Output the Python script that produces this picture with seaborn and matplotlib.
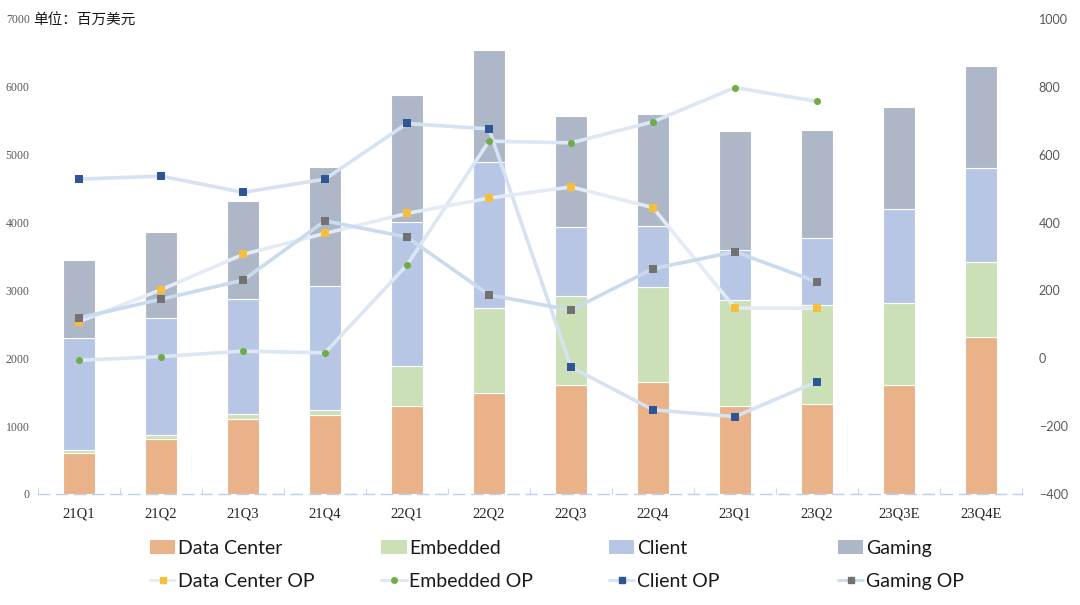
import numpy as np
import pandas as pd
import matplotlib
matplotlib.use("Agg")
import matplotlib.pyplot as plt
import seaborn as sns
from matplotlib.lines import Line2D
from matplotlib.patches import Patch

sns.set_style("white")
plt.rcParams['font.family'] = ['Lato', 'Noto Sans CJK SC', 'DejaVu Sans']

quarters = ['21Q1', '21Q2', '21Q3', '21Q4', '22Q1', '22Q2', '22Q3', '22Q4',
            '23Q1', '23Q2', '23Q3E', '23Q4E']

# revenue by segment (millions USD, left axis)
data_center = [610, 813, 1106, 1163, 1293, 1486, 1609, 1655, 1295, 1321, 1612, 2318]
embedded = [40, 50, 70, 68, 595, 1257, 1303, 1397, 1562, 1459, 1199, 1099]
client = [1651, 1727, 1695, 1835, 2124, 2152, 1022, 903, 739, 998, 1395, 1391]
gaming = [1144, 1267, 1441, 1760, 1875, 1655, 1631, 1644, 1757, 1581, 1494, 1494]

# operating profit by segment (millions USD, right axis), no value for estimates
dc_op = [108, 202, 306, 368, 427, 472, 505, 444, 148, 147, np.nan, np.nan]
emb_op = [-6, 5, 21, 16, 275, 640, 635, 697, 798, 757, np.nan, np.nan]
client_op = [528, 537, 489, 528, 692, 676, -26, -152, -172, -69, np.nan, np.nan]
gaming_op = [119, 174, 230, 405, 357, 187, 142, 264, 314, 225, np.nan, np.nan]

bar_cols = {'Data Center': '#e9b288', 'Embedded': '#cce0b8',
            'Client': '#b7c6e4', 'Gaming': '#adb7c7'}
op_cols = {'Data Center OP': '#f5bf3b', 'Embedded OP': '#70ad47',
           'Client OP': '#2f5597', 'Gaming OP': '#737171'}
line_cols = {'Data Center OP': '#e2ebf6', 'Embedded OP': '#dbe7f4',
             'Client OP': '#d4e2f2', 'Gaming OP': '#c9dbef'}
op_markers = {'Data Center OP': 's', 'Embedded OP': 'o', 'Client OP': 's', 'Gaming OP': 's'}

fig = plt.figure(figsize=(10.8, 6.05), dpi=100)
ax = fig.add_axes([0.0352, 0.1835, 0.9111, 0.7851])

rev = pd.DataFrame({'quarter': quarters, 'Data Center': data_center,
                    'Embedded': embedded, 'Client': client, 'Gaming': gaming})
bottom = np.zeros(len(quarters))
for seg in ['Data Center', 'Embedded', 'Client', 'Gaming']:
    ax.bar(rev['quarter'], rev[seg], bottom=bottom, width=0.4,
           color=bar_cols[seg], edgecolor='white', linewidth=0.8, zorder=2)
    bottom += rev[seg].values

ax.set_xlim(-0.5, len(quarters) - 0.5)
ax.set_ylim(0, 7000)
ax.set_yticks(range(0, 7001, 1000))
for lab in ax.get_yticklabels():
    lab.set_family('Liberation Serif')
ax.tick_params(axis='y', labelsize=8.5, labelcolor='#595959', length=0, pad=6)
ax.tick_params(axis='x', labelsize=10.5, labelcolor='#262626', length=0, pad=10)
for lab in ax.get_xticklabels():
    lab.set_family('Liberation Serif')

for s in ['top', 'right', 'left']:
    ax.spines[s].set_visible(False)
ax.spines['bottom'].set_color('#bcd0ea')
ax.spines['bottom'].set_linestyle((0, (8, 5)))
ax.spines['bottom'].set_linewidth(1)
ax.set_xticks(np.arange(-0.5, len(quarters), 1), minor=True)
ax.tick_params(axis='x', which='minor', bottom=True, direction='in', length=4,
               color='#c8d8ee', width=0.8)

ax2 = ax.twinx()
ax2.set_ylim(-400, 1000)
ax2.set_yticks(range(-400, 1001, 200))
ax2.tick_params(axis='y', labelsize=9, labelcolor='#595959', length=0, pad=12)
for s in ax2.spines.values():
    s.set_visible(False)

ops = pd.DataFrame({'quarter': quarters, 'Data Center OP': dc_op, 'Embedded OP': emb_op,
                    'Client OP': client_op, 'Gaming OP': gaming_op})
x = np.arange(len(quarters))
for name in ['Embedded OP', 'Client OP', 'Data Center OP', 'Gaming OP']:
    sns.lineplot(x=x, y=ops[name].values, ax=ax2, color=line_cols[name], linewidth=2.6,
                 zorder=3, legend=False)
for name in ['Embedded OP', 'Client OP', 'Data Center OP', 'Gaming OP']:
    ax2.scatter(x, ops[name], marker=op_markers[name], s=30 if op_markers[name] == 's' else 26,
                color=op_cols[name], zorder=4, linewidths=0)
ax2.set_xlim(-0.5, len(quarters) - 0.5)
ax2.set_ylabel('')

fig.text(0.031, 0.968, '单位：百万美元', fontsize=10.5, color='#1a1a1a',
         family=['Noto Sans CJK SC', 'DejaVu Sans'], va='center', ha='left')

# legend, four equally spaced columns
col_x = [0.139, 0.353, 0.564, 0.776]
for i, seg in enumerate(['Data Center', 'Embedded', 'Client', 'Gaming']):
    opn = seg + ' OP'
    h = [Patch(facecolor=bar_cols[seg], edgecolor='none'),
         Line2D([], [], color=line_cols[opn], lw=2, marker=op_markers[opn],
                markersize=4, markerfacecolor=op_cols[opn], markeredgecolor=op_cols[opn])]
    fig.legend(h, [seg, opn], loc='upper left', bbox_to_anchor=(col_x[i], 0.108),
               frameon=False, fontsize=14, handlelength=1.3, handletextpad=0.15,
               labelspacing=0.85, borderaxespad=0, borderpad=0, labelcolor='#1a1a1a')

fig.savefig('out.png', dpi=100)
